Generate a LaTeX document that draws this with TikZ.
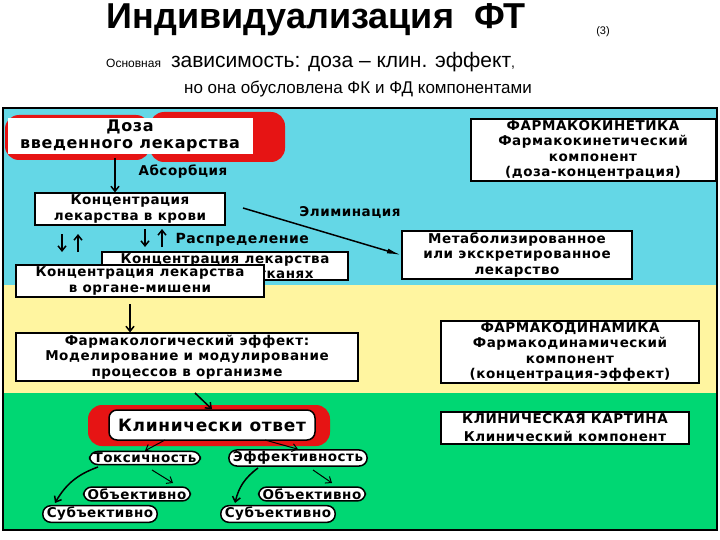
\documentclass[tikz,border=0pt]{standalone}
\usepackage{fontspec}
\setmainfont{Liberation Sans}
\newfontfamily\bxf{DejaVu Sans}[LetterSpace=4,BoldFont={DejaVu Sans Bold}]
\usetikzlibrary{arrows.meta}
\definecolor{cy}{RGB}{100,215,230}
\definecolor{ye}{RGB}{255,245,160}
\definecolor{gr}{RGB}{0,215,115}
\definecolor{rd}{RGB}{230,20,20}
\tikzset{
 bx/.style={draw=black,line width=2pt,fill=white,font=\bxf\fontsize{13.5}{15.5}\selectfont\bfseries,align=center,inner sep=1.5pt},
 rb/.style={bx,rounded corners=8pt,line width=1.5pt,inner xsep=4pt,font=\bxf\fontsize{13.5}{14}\selectfont\bfseries},
 lb/.style={font=\bxf\fontsize{13.5}{13}\selectfont\bfseries},
 ar/.style={-{Straight Barb[length=5pt,width=8pt]},line width=1.5pt},
 blob/.style={fill=rd,rounded corners=14pt}
}
\begin{document}
\begin{tikzpicture}[x=1pt,y=-1pt]
\useasboundingbox (0,0) rectangle (720,540);
\fill[white] (0,0) rectangle (720,540);
% title
\node (t1) at (316,20) {\fontsize{36}{36}\selectfont\bfseries Индивидуализация\ \ ФТ};
\node (t3) at (603,32) {\fontsize{11}{12}\selectfont (3)};
\node[anchor=base west,inner sep=0] (t2) at (106,68) {\fontsize{12}{12}\selectfont Основная \ \ \fontsize{21}{20}\selectfont зависимость: доза – клин. эффект\fontsize{14}{14}\selectfont,};
\node (t4) at (358,89) {\fontsize{17}{16}\selectfont но она обусловлена ФК и ФД компонентами};
% bands
\fill[cy] (3,108) rectangle (717,285);
\fill[ye] (3,285) rectangle (717,393);
\fill[gr] (3,393) rectangle (717,530);
\draw[line width=2.5pt] (3,108) rectangle (717,530);
% dose
\fill[blob] (5,115) rectangle (150,160);
\fill[blob] (150,112) rectangle (285,162);
\node[bx,draw=white,line width=0pt,minimum width=244pt,font=\bxf\fontsize{16}{17}\selectfont\bfseries] (doza) at (130,136) {Доза\\введенного лекарства};
\node[lb,anchor=west] (abs) at (135,172) {Абсорбция};
\node[bx,minimum width=190pt] (blood) at (130,209) {Концентрация\\лекарства в крови};
\draw[ar] (115,158) -- (blood.north -| 115,0);
\node[bx,minimum width=230pt] (met) at (517,255) {Метаболизированное\\или экскретированное\\лекарство};
\draw[line width=1.5pt,-{Latex[length=14pt,width=5pt]}] (243,208) -- (met.west);
\node[lb] (elim) at (350,212) {Элиминация};
\node[bx,minimum width=246pt] (tis) at (225,266) {Концентрация лекарства\\\hspace*{8em}в тканях};
\node[bx,minimum width=248pt] (org) at (140,281) {Концентрация лекарства\\в органе-мишени};
\coordinate (a1) at (62,252); \coordinate (a1b) at (62,234);
\coordinate (a2) at (78,234); \coordinate (a2b) at (78,252);
\draw[ar] (a1b) -- (a1); \draw[ar] (a2b) -- (a2);
\coordinate (b1) at (145,247); \coordinate (b1b) at (145,229);
\coordinate (b2) at (162,229); \coordinate (b2b) at (162,247);
\draw[ar] (b1b) -- (b1); \draw[ar] (b2b) -- (b2);
\node[lb,anchor=west,font=\bxf\fontsize{14}{14}\selectfont\bfseries] (distr) at (172,240) {Распределение};
\node[bx,minimum width=245pt] (fk) at (593,150) {ФАРМАКОКИНЕТИКА\\Фармакокинетический\\компонент\\(доза-концентрация)};
% pharmacodynamics
\node[bx,minimum width=342pt] (eff) at (187,357) {Фармакологический эффект:\\Моделирование и модулирование\\процессов в организме};
\draw[ar] (130,304) -- (eff.north -| 130,0);
\node[bx,minimum width=258pt] (fd) at (570,352) {ФАРМАКОДИНАМИКА\\Фармакодинамический\\компонент\\(концентрация-эффект)};
% clinical
\fill[blob] (88,405) rectangle (330,446);
\node[rb,minimum width=206pt,minimum height=30pt,font=\bxf\fontsize{17}{17}\selectfont\bfseries] (clin) at (212,425) {Клинически ответ};
\draw[ar] (195,393) -- (clin.north);
\node[rb] (tox) at (145,458) {Токсичность};
\node[rb] (effv) at (298,458) {Эффективность};
\draw[ar,line width=1pt] (165,440) -- (tox.north);
\draw[ar,line width=1pt] (265,440) -- (effv.north);
\node[rb] (ob1) at (137,494) {Объективно};
\node[rb] (sub1) at (100,514) {Субъективно};
\node[rb] (ob2) at (312,494) {Объективно};
\node[rb] (sub2) at (278,514) {Субъективно};
\draw[ar] (98,467) to[bend right=20] (55,503);
\draw[ar,line width=1pt] (152,470) -- (173,483);
\draw[ar] (258,468) to[bend right=20] (235,503);
\draw[ar,line width=1pt] (313,470) -- (332,483);
\node[bx,minimum width=248pt,font=\bxf\fontsize{13.5}{18}\selectfont\bfseries] (kk) at (565,428) {КЛИНИЧЕСКАЯ КАРТИНА\\Клинический компонент};
\end{tikzpicture}
\end{document}
